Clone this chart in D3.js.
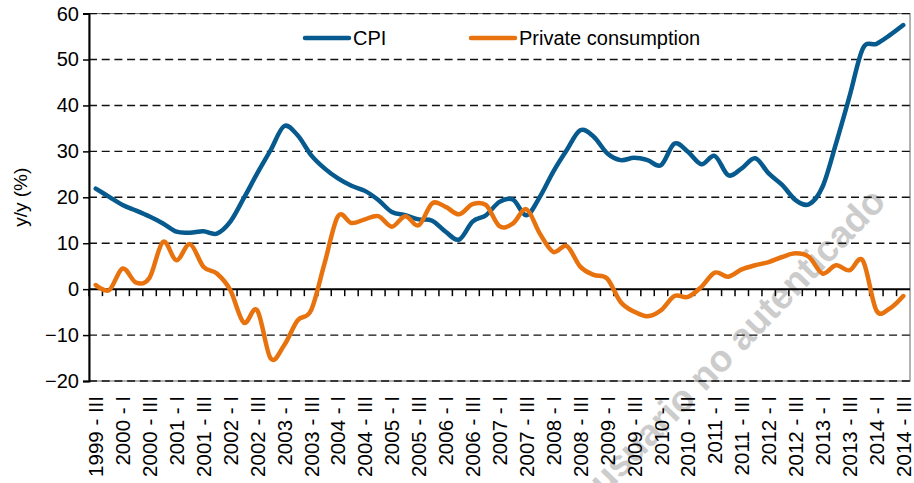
<!DOCTYPE html>
<html>
<head>
<meta charset="utf-8">
<script src="https://cdnjs.cloudflare.com/ajax/libs/d3/7.8.5/d3.min.js"></script>
<style>
  body { margin: 0; background: #fff; }
  svg { display: block; font-family: "Liberation Sans", Arial, sans-serif; }
</style>
</head>
<body>
<div id="chart"></div>
<script>
var quarters = [
    "1999 - III", "1999 - IV",
    "2000 - I", "2000 - II", "2000 - III", "2000 - IV",
    "2001 - I", "2001 - II", "2001 - III", "2001 - IV",
    "2002 - I", "2002 - II", "2002 - III", "2002 - IV",
    "2003 - I", "2003 - II", "2003 - III", "2003 - IV",
    "2004 - I", "2004 - II", "2004 - III", "2004 - IV",
    "2005 - I", "2005 - II", "2005 - III", "2005 - IV",
    "2006 - I", "2006 - II", "2006 - III", "2006 - IV",
    "2007 - I", "2007 - II", "2007 - III", "2007 - IV",
    "2008 - I", "2008 - II", "2008 - III", "2008 - IV",
    "2009 - I", "2009 - II", "2009 - III", "2009 - IV",
    "2010 - I", "2010 - II", "2010 - III", "2010 - IV",
    "2011 - I", "2011 - II", "2011 - III", "2011 - IV",
    "2012 - I", "2012 - II", "2012 - III", "2012 - IV",
    "2013 - I", "2013 - II", "2013 - III", "2013 - IV",
    "2014 - I", "2014 - II", "2014 - III"
];

// only I and III quarters get a label
var tickLabels = quarters.filter(function (q) {
    return / - (I|III)$/.test(q);
});

var cpi = [
    21.9, 20.1, 18.3, 17.1, 15.8, 14.3, 12.5, 12.3, 12.6, 12.1,
    14.7, 19.8, 25.2, 30.3, 35.5, 33.5, 29.2, 26.3, 24.1, 22.5,
    21.4, 19.4, 16.8, 16.1, 15.2, 14.9, 12.5, 10.8, 14.7, 16.1,
    19.0, 19.5, 16.1, 20.1, 25.6, 30.3, 34.6, 33.2, 29.6, 28.1,
    28.6, 28.1, 27.0, 31.7, 29.9, 27.2, 29.0, 24.8, 26.3, 28.5,
    25.2, 22.7, 19.4, 18.5, 22.3, 31.7, 41.9, 52.4, 53.4, 55.3,
    57.5
];

var consumption = [
    0.9, -0.2, 4.5, 1.4, 2.5, 10.3, 6.3, 9.8, 4.9, 3.4,
    -0.2, -7.3, -4.6, -15.1, -12.2, -6.8, -4.6, 5.6, 15.9, 14.4,
    15.2, 15.9, 13.6, 15.9, 13.9, 18.7, 17.9, 16.3, 18.5, 18.3,
    13.7, 14.3, 17.4, 12.1, 8.1, 9.4, 4.9, 3.1, 2.3, -2.8,
    -4.9, -5.9, -4.6, -1.5, -1.7, 0.5, 3.6, 2.7, 4.3, 5.2,
    5.9, 7.0, 7.8, 7.0, 3.4, 5.2, 4.1, 6.2, -4.6, -4.2,
    -1.5
];

var yTicks = [-20, -10, 0, 10, 20, 30, 40, 50, 60];

var series = [
    { name: "CPI", values: cpi, color: "#065a8e" },
    { name: "Private consumption", values: consumption, color: "#e8730e" }
];

var width = 914,
    height = 483,
    plotLeft = 89,
    plotRight = 910,
    plotTop = 13.6,
    plotBottom = 381;

var svg = d3.select("#chart").append("svg")
    .attr("width", width)
    .attr("height", height);

var x = d3.scaleBand()
    .domain(quarters)
    .range([plotLeft, plotRight]);

var y = d3.scaleLinear()
    .domain([-20, 60])
    .range([plotBottom, plotTop]);

var cx = function (q) { return x(q) + x.bandwidth() / 2; };

// watermark sits under everything
svg.append("text")
    .attr("transform", "translate(737,341) rotate(-46)")
    .attr("text-anchor", "middle")
    .attr("dominant-baseline", "central")
    .attr("font-size", "37px")
    .attr("font-weight", "bold")
    .attr("fill", "#cccccc")
    .text("usuario no autenticado");

// frame
svg.append("rect")
    .attr("x", plotLeft)
    .attr("y", plotTop)
    .attr("width", plotRight - plotLeft)
    .attr("height", plotBottom - plotTop)
    .attr("fill", "none")
    .attr("stroke", "#666")
    .attr("stroke-width", 1);

// dashed gridlines
svg.append("g")
    .selectAll("line")
    .data(yTicks.filter(function (d) { return d !== 0; }))
    .enter().append("line")
    .attr("x1", plotLeft)
    .attr("x2", plotRight)
    .attr("y1", function (d) { return y(d); })
    .attr("y2", function (d) { return y(d); })
    .attr("stroke", "#111")
    .attr("stroke-width", 1.4)
    .attr("stroke-dasharray", "8,4.7");

// y axis
svg.append("g")
    .attr("transform", "translate(" + plotLeft + ",0)")
    .call(d3.axisLeft(y).tickValues(yTicks).tickSize(6).tickPadding(4))
    .call(function (g) {
        g.select(".domain").attr("stroke", "#000").attr("stroke-width", 2);
        g.selectAll(".tick line").attr("stroke", "#000").attr("stroke-width", 1.5);
        g.selectAll(".tick text")
            .attr("font-size", "20px")
            .attr("font-family", "Liberation Sans, Arial, sans-serif")
            .attr("fill", "#000");
    });

// zero line with ticks at the category boundaries
svg.append("g")
    .attr("transform", "translate(" + (-x.step() / 2) + "," + y(0) + ")")
    .call(d3.axisBottom(x).tickSize(7).tickFormat("").tickSizeOuter(0))
    .call(function (g) {
        g.select(".domain").remove();
        g.selectAll(".tick line").attr("stroke", "#000").attr("stroke-width", 1.5);
    });

svg.append("line")
    .attr("x1", plotLeft)
    .attr("x2", plotRight)
    .attr("y1", y(0))
    .attr("y2", y(0))
    .attr("stroke", "#000")
    .attr("stroke-width", 2);

// category labels
svg.append("g")
    .selectAll("text")
    .data(tickLabels)
    .enter().append("text")
    .attr("transform", function (d) {
        return "translate(" + cx(d) + ",396) rotate(-90)";
    })
    .attr("text-anchor", "end")
    .attr("dominant-baseline", "central")
    .attr("font-size", "20.5px")
    .attr("fill", "#000")
    .text(function (d) { return d; });

// y title
svg.append("text")
    .attr("transform", "translate(20," + y(20) + ") rotate(-90)")
    .attr("text-anchor", "middle")
    .attr("dominant-baseline", "central")
    .attr("font-size", "19px")
    .attr("fill", "#000")
    .text("y/y (%)");

var line = d3.line()
    .x(function (d, i) { return cx(quarters[i]); })
    .y(function (d) { return y(d); })
    .curve(d3.curveCardinal.tension(0));

svg.append("g")
    .selectAll("path")
    .data(series)
    .enter().append("path")
    .attr("d", function (s) { return line(s.values); })
    .attr("fill", "none")
    .attr("stroke", function (s) { return s.color; })
    .attr("stroke-width", 4.5)
    .attr("stroke-linejoin", "round")
    .attr("stroke-linecap", "round");

// legend
var legendX = [305, 471];
var legend = svg.append("g")
    .selectAll("g")
    .data(series)
    .enter().append("g")
    .attr("transform", function (d, i) { return "translate(" + legendX[i] + ",38)"; });

legend.append("line")
    .attr("x1", 0)
    .attr("x2", 44)
    .attr("stroke", function (d) { return d.color; })
    .attr("stroke-width", 4.5)
    .attr("stroke-linecap", "round");

legend.append("text")
    .attr("x", 48)
    .attr("dy", "0.35em")
    .attr("font-size", "20px")
    .attr("fill", "#000")
    .text(function (d) { return d.name; });
</script>
</body>
</html>
